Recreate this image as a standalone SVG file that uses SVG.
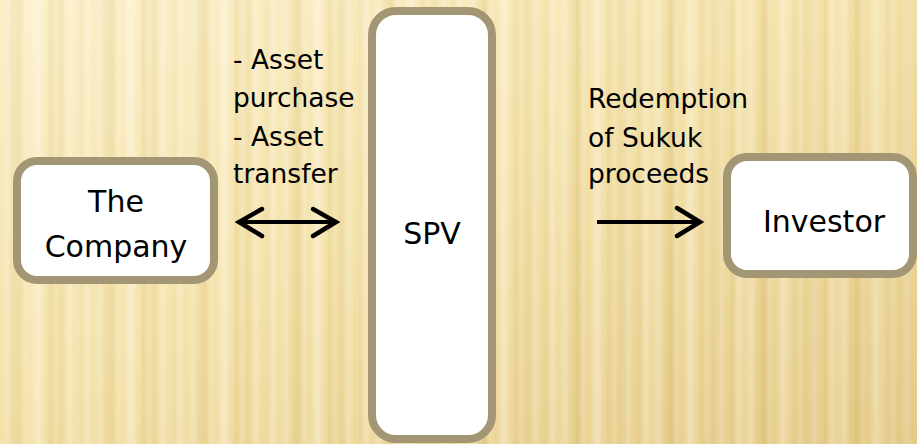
<svg xmlns="http://www.w3.org/2000/svg" width="917" height="444" viewBox="0 0 917 444">
  <defs>
    <linearGradient id="bgTone" x1="0" y1="0" x2="1" y2="1">
      <stop offset="0" stop-color="#fcf0c8"/>
      <stop offset="0.45" stop-color="#f5e2a8"/>
      <stop offset="1" stop-color="#e4c984"/>
    </linearGradient>
    <linearGradient id="stripe" x1="0" y1="0" x2="1" y2="0">
      <stop offset="0" stop-color="#ffffff" stop-opacity="0"/>
      <stop offset="0.25" stop-color="#ffffff" stop-opacity="0.28"/>
      <stop offset="0.45" stop-color="#ffffff" stop-opacity="0"/>
      <stop offset="0.6" stop-color="#b89a40" stop-opacity="0.10"/>
      <stop offset="0.8" stop-color="#ffffff" stop-opacity="0.18"/>
      <stop offset="1" stop-color="#ffffff" stop-opacity="0"/>
    </linearGradient>
    <linearGradient id="stripe2" x1="0" y1="0" x2="1" y2="0">
      <stop offset="0" stop-color="#a88a30" stop-opacity="0"/>
      <stop offset="0.3" stop-color="#a88a30" stop-opacity="0.08"/>
      <stop offset="0.55" stop-color="#ffffff" stop-opacity="0"/>
      <stop offset="0.75" stop-color="#ffffff" stop-opacity="0.15"/>
      <stop offset="1" stop-color="#ffffff" stop-opacity="0"/>
    </linearGradient>
    <pattern id="stripes" width="31" height="444" patternUnits="userSpaceOnUse">
      <rect width="31" height="444" fill="url(#stripe)"/>
    </pattern>
    <pattern id="stripes2" width="47" height="444" patternUnits="userSpaceOnUse">
      <rect width="47" height="444" fill="url(#stripe2)"/>
    </pattern>
    <filter id="soft" x="-10%" y="-50%" width="120%" height="200%">
      <feGaussianBlur stdDeviation="0.6"/>
    </filter>
  </defs>
  <style>
    .box { fill: #ffffff; stroke: #a39674; stroke-width: 8; }
    .node-text { font-family: "DejaVu Sans", sans-serif; font-size: 30px; fill: #000000; text-anchor: middle; }
    .label { font-family: "DejaVu Sans", sans-serif; font-size: 26.5px; fill: #000000; }
    .shaft { fill: none; stroke: #000000; stroke-width: 4; }
    .head { fill: none; stroke: #000000; stroke-width: 4.5; stroke-linecap: round; stroke-linejoin: miter; }
  </style>

  <!-- background -->
  <rect width="917" height="444" fill="url(#bgTone)"/>
  <rect width="917" height="444" fill="url(#stripes)"/>
  <rect width="917" height="444" fill="url(#stripes2)"/>

  <!-- nodes -->
  <g id="company">
    <rect class="box" x="17" y="161" width="197" height="119" rx="20"/>
    <text class="node-text" x="116" y="212">The</text>
    <text class="node-text" x="116" y="257">Company</text>
  </g>

  <g id="spv">
    <rect class="box" x="372" y="11" width="120" height="428" rx="24"/>
    <text class="node-text" x="432" y="244">SPV</text>
  </g>

  <g id="investor">
    <rect class="box" x="727" y="157" width="186" height="117" rx="20"/>
    <text class="node-text" x="824" y="232">Investor</text>
  </g>

  <!-- connector labels -->
  <g id="labels">
    <text class="label" x="233" y="69">- Asset</text>
    <text class="label" x="233" y="107">purchase</text>
    <text class="label" x="233" y="146">- Asset</text>
    <text class="label" x="233" y="183">transfer</text>
    <text class="label" x="588" y="108">Redemption</text>
    <text class="label" x="588" y="147">of Sukuk</text>
    <text class="label" x="588" y="183">proceeds</text>
  </g>

  <!-- connectors -->
  <g id="connectors" filter="url(#soft)">
    <path class="shaft" d="M241 222 H334"/>
    <path class="head" d="M262 209 L239 222 L262 236"/>
    <path class="head" d="M313 209 L336 222 L313 236"/>
    <path class="shaft" d="M597 222 H698"/>
    <path class="head" d="M677 208 L700 222 L677 236"/>
  </g>
</svg>
